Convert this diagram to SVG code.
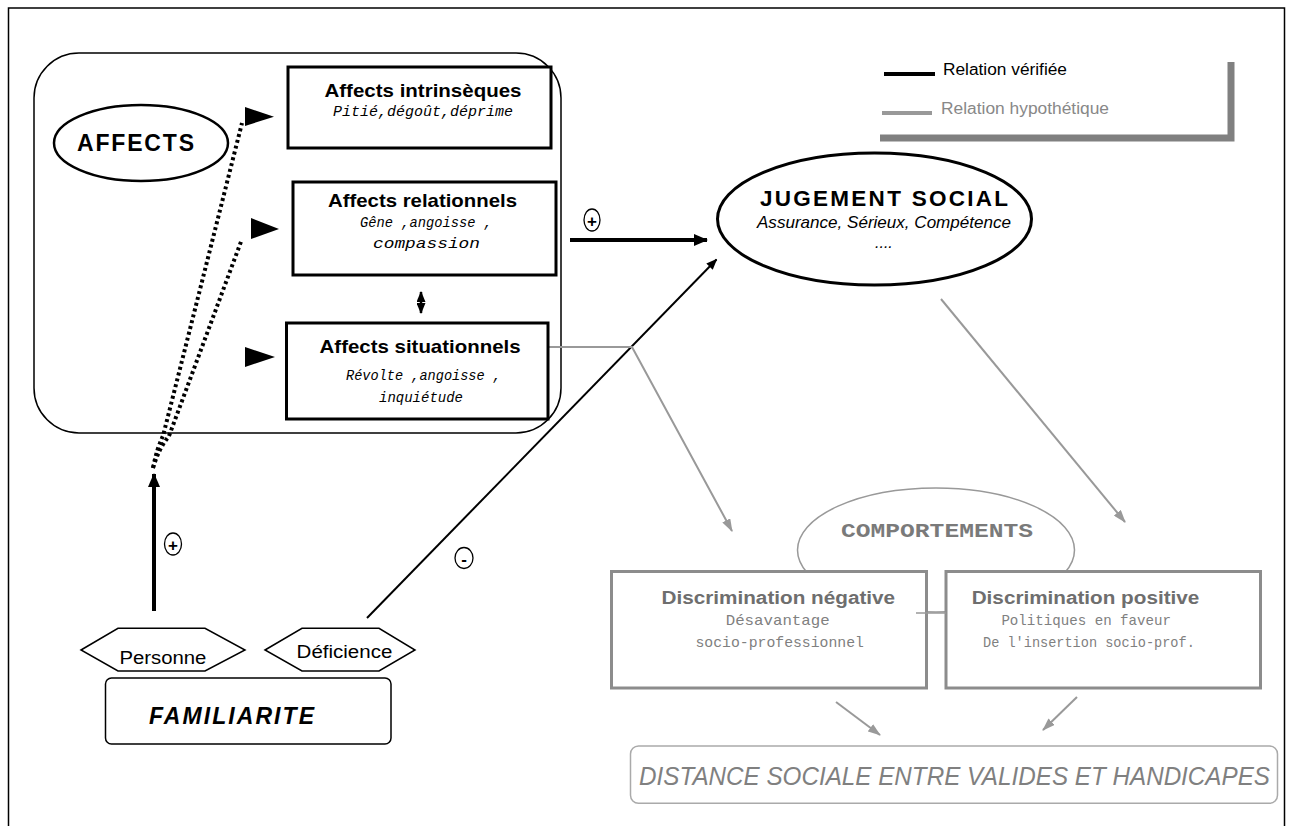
<svg xmlns="http://www.w3.org/2000/svg" width="1290" height="826" viewBox="0 0 1290 826">
<defs>
<marker id="ahB" markerUnits="userSpaceOnUse" markerWidth="14" markerHeight="12" refX="13" refY="6" orient="auto"><path d="M0,0 L14,6 L0,12 z" fill="#000"/></marker>
<marker id="ahS" markerUnits="userSpaceOnUse" markerWidth="11" markerHeight="9" refX="10" refY="4.5" orient="auto-start-reverse"><path d="M0,0 L11,4.5 L0,9 z" fill="#000"/></marker>
<marker id="ahG" markerUnits="userSpaceOnUse" markerWidth="13" markerHeight="9" refX="12" refY="4.5" orient="auto"><path d="M0,0 L13,4.5 L0,9 z" fill="#999"/></marker>
</defs>
<style>
.sans{font-family:"Liberation Sans",Arial,sans-serif}
.mono{font-family:"Liberation Mono","Courier New",monospace}
.box{fill:#fff;stroke:#000;stroke-width:3}
.gbox{fill:#fff;stroke:#8c8c8c;stroke-width:3}
.thin{fill:#fff;stroke:#000;stroke-width:1.5}
.ttl{font-family:"Liberation Sans",Arial,sans-serif;font-weight:bold;font-size:19px}
.sub{font-family:"Liberation Mono","Courier New",monospace;font-style:italic;font-size:15px}
.gttl{font-family:"Liberation Sans",Arial,sans-serif;font-weight:bold;font-size:18px;fill:#6e6e6e}
.gsub{font-family:"Liberation Mono","Courier New",monospace;font-size:15px;fill:#808080}
.blk{stroke:#000;fill:none}
.gry{stroke:#999;fill:none;stroke-width:2}
.dot{stroke:#000;fill:none;stroke-width:4;stroke-dasharray:3 3}
.sign{fill:#fff;stroke:#000;stroke-width:1.3}
</style>
<rect width="1290" height="826" fill="#fff"/>
<rect x="8.5" y="8" width="1276" height="840" fill="none" stroke="#000" stroke-width="1.5"/>

<g id="affects-container">
<rect x="34" y="53" width="527" height="380" rx="45" fill="none" stroke="#000" stroke-width="1.5"/>
</g>

<g id="comportements">
<ellipse cx="936" cy="550" rx="138.5" ry="62" fill="none" stroke="#999" stroke-width="1.5"/>
<text class="mono" x="841" y="537" font-size="21" font-weight="bold" fill="#7a7a7a" textLength="192" lengthAdjust="spacingAndGlyphs">COMPORTEMENTS</text>
</g>

<g id="connectors">
<path class="dot" d="M153,468 Q157,448 163,436 L242,123"/>
<path class="dot" d="M153,468 Q159,448 169,436 L242,239"/>
<polygon points="245,107 274,116.7 245,126" fill="#000"/>
<polygon points="251,218 279,229 251,239" fill="#000"/>
<polygon points="245,347 275,357 245,367" fill="#000"/>
<path class="blk" stroke-width="2.5" d="M421,292 L421,313" marker-start="url(#ahS)" marker-end="url(#ahS)"/>
<path class="blk" stroke-width="4" d="M570,240 L707,240" marker-end="url(#ahB)"/>
<path class="blk" stroke-width="2" d="M367,618 L716.5,259.5" marker-end="url(#ahS)"/>
<path class="blk" stroke-width="4" d="M154,611 L154,474" marker-end="url(#ahB)"/>
<path class="gry" d="M549,347 L632,347 L732,531" marker-end="url(#ahG)"/>
<path class="gry" d="M941,299 L1125,522" marker-end="url(#ahG)"/>
<path class="gry" stroke-width="2.5" d="M836,702 L880,735" marker-end="url(#ahG)"/>
<path class="gry" stroke-width="2" d="M1077,697 L1043,730" marker-end="url(#ahG)"/>
<ellipse class="sign" cx="592" cy="220" rx="8" ry="11"/>
<text class="sans" x="592" y="227" font-size="17" font-weight="bold" text-anchor="middle">+</text>
<ellipse class="sign" cx="173" cy="544" rx="8.5" ry="11"/>
<text class="sans" x="173" y="551" font-size="17" font-weight="bold" text-anchor="middle">+</text>
<ellipse class="sign" cx="464" cy="558" rx="9" ry="10.5"/>
<text class="sans" x="464" y="565" font-size="17" font-weight="bold" text-anchor="middle">-</text>
</g>

<g id="legend">
<path d="M884,74 L935,74" stroke="#000" stroke-width="4"/>
<path d="M882,113 L932,113" stroke="#999" stroke-width="4"/>
<path d="M880,138 H1231 V62" fill="none" stroke="#808080" stroke-width="7"/>
<text class="sans" x="943" y="75" font-size="16" textLength="124" lengthAdjust="spacingAndGlyphs">Relation vérifiée</text>
<text class="sans" x="941" y="114" font-size="16" fill="#888" textLength="168" lengthAdjust="spacingAndGlyphs">Relation hypothétique</text>
</g>

<g id="affects">
<ellipse cx="141" cy="143" rx="87" ry="38" fill="#fff" stroke="#000" stroke-width="2.5"/>
<text class="sans" x="77" y="151" font-size="23" font-weight="bold" textLength="117" lengthAdjust="spacing">AFFECTS</text>
</g>

<g id="affects-intrinseques">
<rect class="box" x="288" y="67" width="263" height="81"/>
<text class="ttl" x="324.5" y="97" textLength="197" lengthAdjust="spacingAndGlyphs">Affects intrinsèques</text>
<text class="sub" x="333" y="116" textLength="180" lengthAdjust="spacingAndGlyphs">Pitié,dégoût,déprime</text>
</g>

<g id="affects-relationnels">
<rect class="box" x="293" y="182" width="263" height="93"/>
<text class="ttl" x="328" y="207" textLength="189" lengthAdjust="spacingAndGlyphs">Affects relationnels</text>
<text class="sub" x="360" y="227" textLength="132" lengthAdjust="spacingAndGlyphs">Gêne ,angoisse ,</text>
<text class="sub" x="373" y="248" textLength="107" lengthAdjust="spacingAndGlyphs">compassion</text>
</g>

<g id="affects-situationnels">
<rect class="box" x="286.5" y="323" width="261.5" height="96"/>
<text class="ttl" x="319.6" y="353" textLength="201" lengthAdjust="spacingAndGlyphs">Affects situationnels</text>
<text class="sub" x="346" y="380" textLength="155" lengthAdjust="spacingAndGlyphs">Révolte ,angoisse ,</text>
<text class="sub" x="379" y="402" textLength="84" lengthAdjust="spacingAndGlyphs">inquiétude</text>
</g>

<g id="jugement-social">
<ellipse cx="874.5" cy="219" rx="157" ry="66" fill="#fff" stroke="#000" stroke-width="3"/>
<text class="sans" x="760" y="206" font-size="22.5" font-weight="bold" textLength="248" lengthAdjust="spacing">JUGEMENT SOCIAL</text>
<text class="sans" x="757" y="228" font-size="17" font-style="italic" textLength="254" lengthAdjust="spacingAndGlyphs">Assurance, Sérieux, Compétence</text>
<text class="sans" x="875" y="248" font-size="16" font-style="italic">....</text>
</g>

<g id="discrimination-negative">
<rect class="gbox" x="611.5" y="571.5" width="315" height="116.5"/>
<text class="gttl" x="661.5" y="604" textLength="233.6" lengthAdjust="spacingAndGlyphs">Discrimination négative</text>
<text class="gsub" x="725.7" y="625" textLength="104" lengthAdjust="spacingAndGlyphs">Désavantage</text>
<text class="gsub" x="695.4" y="647" textLength="168.6" lengthAdjust="spacingAndGlyphs">socio-professionnel</text>
</g>

<g id="discrimination-positive">
<rect class="gbox" x="946" y="571.5" width="314.5" height="116.5"/>
<text class="gttl" x="971.7" y="604" textLength="227.6" lengthAdjust="spacingAndGlyphs">Discrimination positive</text>
<text class="gsub" x="1001.4" y="625" textLength="169.6" lengthAdjust="spacingAndGlyphs">Politiques en faveur</text>
<text class="gsub" x="983" y="647" textLength="211.8" lengthAdjust="spacingAndGlyphs">De l'insertion socio-prof.</text>
</g>
<path d="M916,613 L946,613" stroke="#999" stroke-width="1.5"/>

<g id="distance-sociale">
<rect x="630.5" y="746" width="647" height="57.3" rx="8" fill="#fff" stroke="#aaa" stroke-width="1.5"/>
<text class="sans" x="639" y="785" font-size="25" font-style="italic" fill="#808080" textLength="631" lengthAdjust="spacingAndGlyphs">DISTANCE SOCIALE ENTRE VALIDES ET HANDICAPES</text>
</g>

<g id="personne">
<polygon class="thin" points="81,650 118,628.3 205,628.3 245,650 205,671 118,671"/>
<text class="sans" x="119.4" y="664" font-size="18" textLength="87" lengthAdjust="spacingAndGlyphs" stroke="#fff" stroke-width="5" paint-order="stroke">Personne</text>
</g>

<g id="deficience">
<polygon class="thin" points="265,650 302,628.3 379,628.3 415,650 379,671 302,671"/>
<text class="sans" x="296.6" y="658.3" font-size="18" textLength="95.7" lengthAdjust="spacingAndGlyphs">Déficience</text>
</g>

<g id="familiarite">
<rect class="thin" x="105.5" y="678" width="285.5" height="66" rx="6"/>
<text class="sans" x="149" y="724" font-size="23" font-weight="bold" font-style="italic" textLength="165" lengthAdjust="spacing">FAMILIARITE</text>
</g>
</svg>
